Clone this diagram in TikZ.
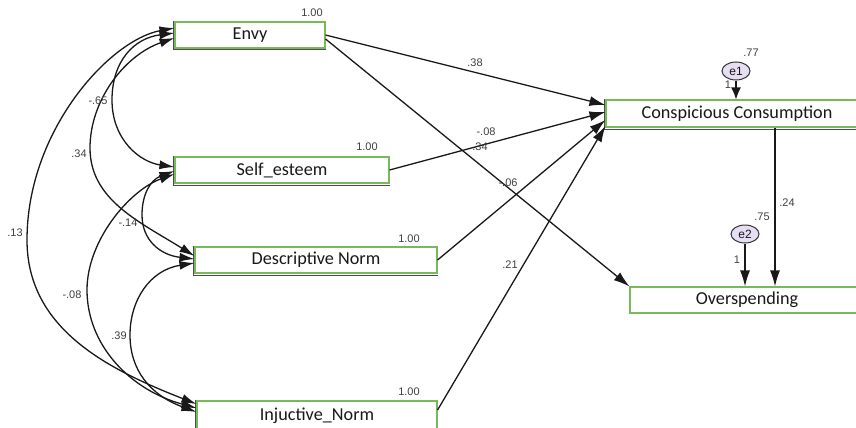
\documentclass[tikz,border=0pt]{standalone}
\usepackage{fontspec}
\setmainfont{Liberation Sans}
\newfontfamily\boxfont{Carlito}
\usetikzlibrary{arrows.meta,shapes.geometric}
\definecolor{boxgreen}{RGB}{120,185,90}
\definecolor{errfill}{RGB}{230,222,242}
\definecolor{ink}{RGB}{25,25,25}
\begin{document}
\begin{tikzpicture}[x=1pt,y=-1pt,
  var/.style={draw=boxgreen, line width=1.1pt, fill=white, minimum height=26pt, inner sep=0pt,
    font=\boxfont\fontsize{18.2}{20}\selectfont, text=ink},
  shadeline/.style={draw=black!70, line width=0.9pt},
  arr/.style={-{Latex[length=16pt,width=10pt]}, line width=1.3pt, draw=ink},
  arrs/.style={-{Latex[length=12pt,width=10pt]}, line width=1.3pt, draw=ink},
  cov/.style={{Latex[length=15pt,width=9pt]}-{Latex[length=15pt,width=9pt]}, line width=1.3pt, draw=ink},
  lab/.style={font=\fontsize{11}{12}\selectfont, text=black!75, inner sep=0pt},
  err/.style={ellipse, draw=black!80, fill=errfill, minimum width=28pt, minimum height=18pt,
    inner sep=0pt, line width=1pt, font=\fontsize{12}{13}\selectfont, text=ink}]
\useasboundingbox (0,0) rectangle (856,428);
\clip (0,0) rectangle (856,428);
\fill[white] (0,0) rectangle (856,428);

% observed variables
\node[var, minimum width=150pt] (envy) at (250,35) {Envy};
\node[var, minimum width=214pt] (self) at (282,170) {Self\_esteem};
\node[var, minimum width=242pt] (desc) at (316,260) {Descriptive Norm};
\node[var, minimum width=240pt, minimum height=30pt] (inj) at (317,416) {Injuctive\_Norm};
\node[var, minimum width=262pt, minimum height=27pt] (cc) at (737,113.5) {Conspicious Consumption};
\node[var, minimum width=234pt] (ov) at (747,300) {Overspending};

\foreach \n in {envy,self,desc,inj,cc}
  \draw[shadeline] ([xshift=-1.4pt]\n.north west) -- ([xshift=-1.4pt,yshift=-1.4pt]\n.south west) -- ([yshift=-1.4pt]\n.south east);

% errors
\node[err] (e1) at (736,71) {e1};
\node[err] (e2) at (745,234) {e2};

% regression paths
\draw[arr] (envy.east) -- ([yshift=8.5pt]cc.west);
\draw[arr] ([yshift=-4pt]envy.east) -- (ov.north west);
\draw[arr] (self.east) -- ([yshift=1.5pt]cc.west);
\draw[arr] (desc.east) -- ([yshift=-6.5pt]cc.west);
\draw[arr] ([yshift=6pt]inj.east) -- ([yshift=-12.5pt]cc.west);
\coordinate (vx) at (775,0);
\draw[arr] (cc.south -| vx) -- (ov.north -| vx);
\draw[arrs] (e1) -- (e1 |- cc.north);
\draw[arr] (e2) -- (e2 |- ov.north);

% covariances
\draw[cov] ([yshift=7pt]envy.west) .. controls (110,40) and (27,130) .. (27,240)
   .. controls (27,330) and (110,370) .. ([yshift=12pt]inj.west);
\draw[cov] ([yshift=2pt]envy.west) .. controls (135,38) and (112,60) .. (112,100)
   .. controls (112,140) and (140,162) .. ([yshift=3pt]self.west);
\draw[cov] ([yshift=-3pt]envy.west) .. controls (125,55) and (90,100) .. (90,148)
   .. controls (90,200) and (140,222) .. ([yshift=4pt]desc.west);
\draw[cov] ([yshift=-1pt]self.west) .. controls (150,180) and (142,195) .. (142,215)
   .. controls (142,240) and (160,255) .. ([yshift=1pt]desc.west);
\draw[cov] ([yshift=-4pt]self.west) .. controls (130,190) and (87,240) .. (87,290)
   .. controls (87,345) and (130,390) .. ([yshift=8pt]inj.west);
\draw[cov] ([yshift=-3pt]desc.west) .. controls (150,270) and (130,300) .. (130,335)
   .. controls (130,370) and (150,395) .. ([yshift=4pt]inj.west);

% labels
\node[lab] (l1) at (312,13) {1.00};
\node[lab] (l2) at (367,147) {1.00};
\node[lab] (l3) at (409,239) {1.00};
\node[lab] (l4) at (409,392) {1.00};
\node[lab] (l5) at (475,63) {.38};
\node[lab] (l6) at (486,132) {-.08};
\node[lab] (l7) at (480,147) {.34};
\node[lab] (l8) at (508,183) {-.06};
\node[lab] (l9) at (510,265) {.21};
\node[lab] (l10) at (751,53) {.77};
\node[lab] (l11) at (728,85) {1};
\node[lab] (l12) at (787,203) {.24};
\node[lab] (l13) at (762,217) {.75};
\node[lab] (l14) at (737,260) {1};
\node[lab] (l15) at (98,101) {-.65};
\node[lab] (l16) at (79,154) {.34};
\node[lab] (l17) at (15,233) {.13};
\node[lab] (l18) at (128,223) {-.14};
\node[lab] (l19) at (72,295) {-.08};
\node[lab] (l20) at (119,336) {.39};
\end{tikzpicture}
\end{document}
